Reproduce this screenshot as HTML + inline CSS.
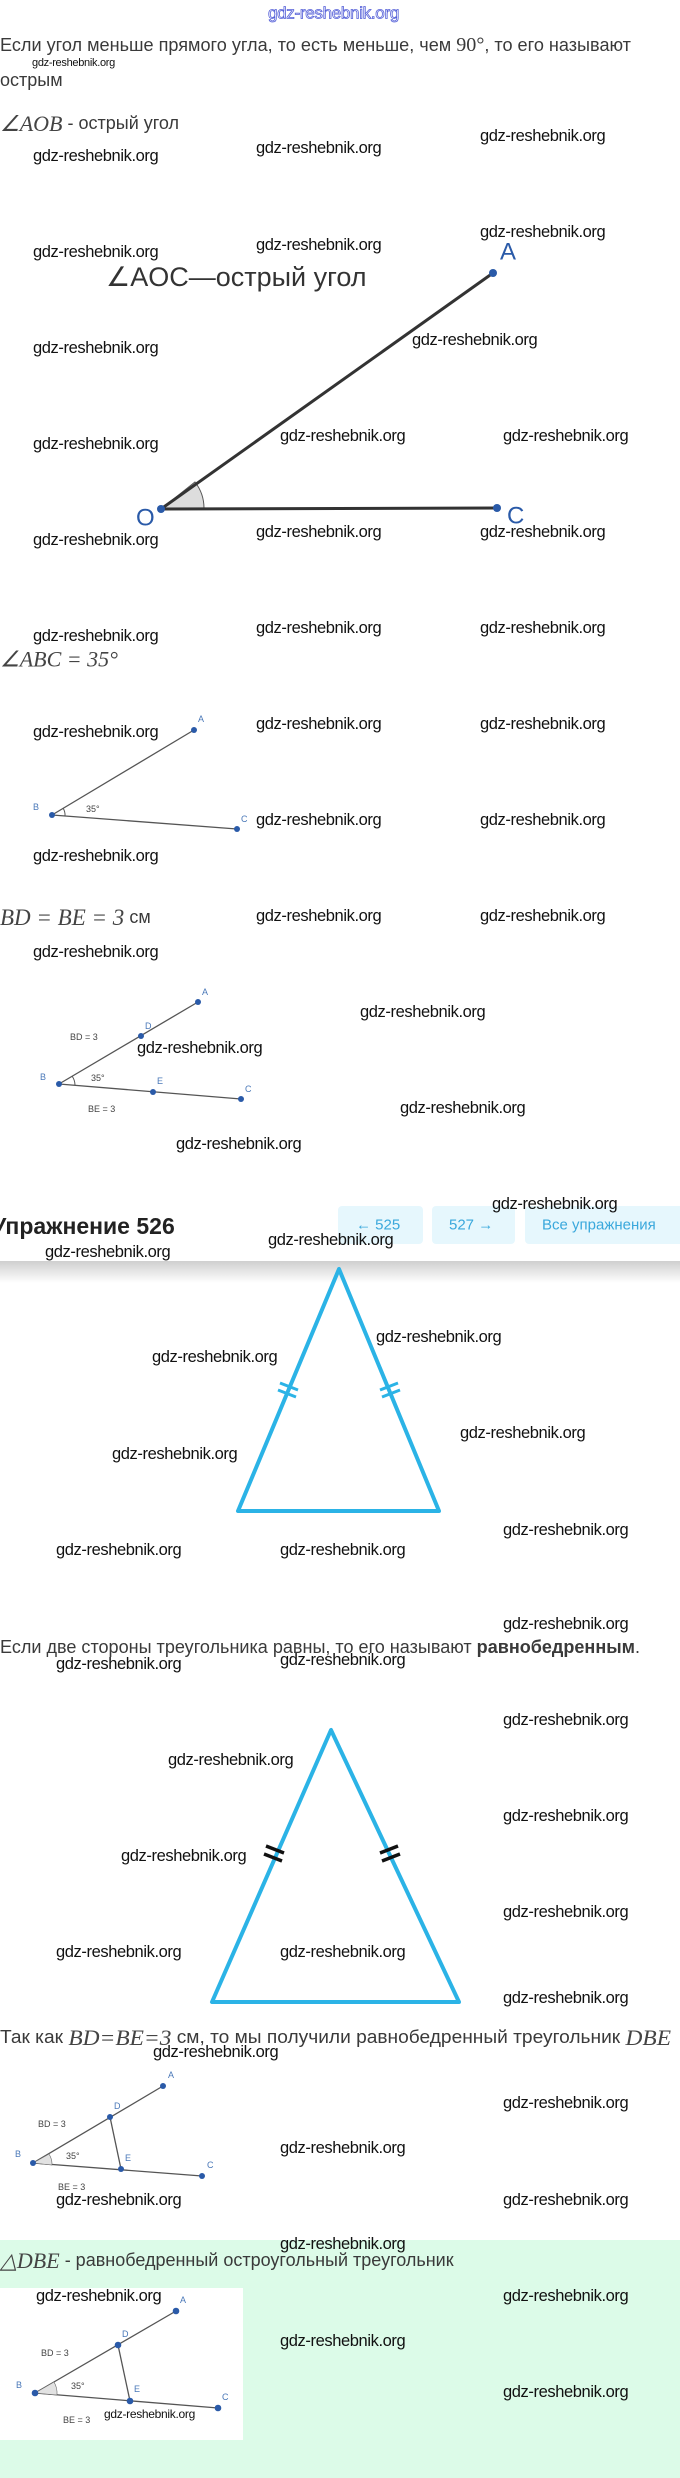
<!DOCTYPE html>
<html><head><meta charset="utf-8"><style>
html,body{margin:0;padding:0;background:#fff;}
svg{display:block;}
.t{font-family:"Liberation Sans",sans-serif;fill:#3a3a3a;}
.w{font-family:"Liberation Sans",sans-serif;font-size:16.5px;fill:#111;letter-spacing:-0.4px;}
.m{font-family:"Liberation Serif",serif;font-style:italic;fill:#444;}
.l{font-family:"Liberation Sans",sans-serif;font-size:9px;fill:#4a78b8;}
.g{font-family:"Liberation Sans",sans-serif;font-size:9px;fill:#444;}
</style></head><body>
<svg width="680" height="2478" viewBox="0 0 680 2478" xmlns="http://www.w3.org/2000/svg">
<defs>
<linearGradient id="sh" x1="0" y1="0" x2="0" y2="1"><stop offset="0" stop-color="#cfcfcf"/><stop offset="1" stop-color="#ffffff"/></linearGradient>
</defs>
<rect x="0" y="2240" width="680" height="238" fill="#dcfbe8"/>
<rect x="0" y="2288" width="243" height="152" fill="#fff"/>

<g dominant-baseline="central">
<text x="268" y="13" font-family="Liberation Sans,sans-serif" font-size="17" fill="none" stroke="#5560d8" stroke-width="0.8" letter-spacing="-0.3">gdz-reshebnik.org</text>

<text class="t" x="0" y="45" font-size="18" textLength="631" lengthAdjust="spacingAndGlyphs">Если угол меньше прямого угла, то есть меньше, чем <tspan font-family="Liberation Serif,serif" font-size="20">90°</tspan>, то его называют</text>
<text x="32" y="63" font-family="Liberation Sans,sans-serif" font-size="11" fill="#111" letter-spacing="-0.3">gdz-reshebnik.org</text>
<text class="t" x="0" y="80" font-size="18">острым</text>
<text x="0" y="123"><tspan class="m" font-size="22">∠AOB</tspan><tspan class="t" font-size="18"> - острый угол</tspan></text>

<path d="M161 509 L204 509 A43 43 0 0 0 195 482 Z" fill="#ddd" stroke="#555" stroke-width="1"/>
<line x1="161" y1="509" x2="493" y2="273" stroke="#333" stroke-width="3"/>
<line x1="161" y1="509" x2="497" y2="508" stroke="#333" stroke-width="3"/>
<circle cx="493" cy="273" r="4" fill="#2a5aa8"/><circle cx="161" cy="509" r="4" fill="#2a5aa8"/><circle cx="497" cy="508" r="4" fill="#2a5aa8"/>
<text x="500" y="252" font-family="Liberation Sans,sans-serif" font-size="24" fill="#2a5aa8">A</text>
<text x="136" y="518" font-family="Liberation Sans,sans-serif" font-size="24" fill="#2a5aa8">O</text>
<text x="507" y="516" font-family="Liberation Sans,sans-serif" font-size="24" fill="#2a5aa8">C</text>
<text x="106" y="277" font-family="Liberation Sans,sans-serif" font-size="27" fill="#333">∠AOC—острый  угол</text>

<text class="m" x="0" y="659" font-size="22">∠ABC = 35°</text>
<line x1="52" y1="815" x2="194" y2="730" stroke="#555" stroke-width="1.3"/>
<line x1="52" y1="815" x2="237" y2="829" stroke="#555" stroke-width="1.3"/>
<path d="M65 816 A13 13 0 0 0 63 808" fill="none" stroke="#555"/>
<circle cx="194" cy="730" r="3" fill="#2a5aa8"/><circle cx="52" cy="815" r="3" fill="#2a5aa8"/><circle cx="237" cy="829" r="3" fill="#2a5aa8"/>
<text class="l" x="198" y="719">A</text><text class="l" x="33" y="807">B</text><text class="l" x="241" y="819">C</text><text class="g" x="86" y="809">35°</text>

<text x="0" y="917"><tspan class="m" font-size="23">BD = BE = 3</tspan><tspan class="t" font-size="18"> см</tspan></text>
<line x1="59" y1="1084" x2="198" y2="1002" stroke="#555" stroke-width="1.3"/>
<line x1="59" y1="1084" x2="241" y2="1099" stroke="#555" stroke-width="1.3"/>
<path d="M75 1085 A16 16 0 0 0 72 1076" fill="none" stroke="#555"/>
<circle cx="198" cy="1002" r="3" fill="#2a5aa8"/><circle cx="141" cy="1036" r="3" fill="#2a5aa8"/><circle cx="59" cy="1084" r="3" fill="#2a5aa8"/><circle cx="153" cy="1092" r="3" fill="#2a5aa8"/><circle cx="241" cy="1099" r="3" fill="#2a5aa8"/>
<text class="l" x="202" y="992">A</text><text class="l" x="145" y="1026">D</text><text class="g" x="70" y="1037">BD = 3</text><text class="l" x="40" y="1077">B</text><text class="g" x="91" y="1078">35°</text><text class="l" x="157" y="1081">E</text><text class="l" x="245" y="1089">C</text><text class="g" x="88" y="1109">BE = 3</text>

<text x="-8" y="1226" font-family="Liberation Sans,sans-serif" font-size="23" font-weight="bold" fill="#222">Упражнение 526</text>
<rect x="338" y="1206" width="85" height="38" rx="4" fill="#e6f7fd"/>
<rect x="432" y="1206" width="83" height="38" rx="4" fill="#e6f7fd"/>
<rect x="525" y="1206" width="160" height="38" rx="4" fill="#e6f7fd"/>
<text x="356" y="1225" font-family="Liberation Sans,sans-serif" font-size="15" fill="#3aa8dc">←  525</text>
<text x="449" y="1225" font-family="Liberation Sans,sans-serif" font-size="15" fill="#3aa8dc">527  →</text>
<text x="542" y="1225" font-family="Liberation Sans,sans-serif" font-size="15" fill="#3aa8dc">Все упражнения</text>
<rect x="0" y="1261" width="680" height="22" fill="url(#sh)"/>

<polygon points="339,1269 238,1511 439,1511" fill="none" stroke="#2bb3e6" stroke-width="4" stroke-linejoin="round"/>
<g stroke="#2bb3e6" stroke-width="3"><line x1="280" y1="1383" x2="298" y2="1390"/><line x1="278" y1="1390" x2="296" y2="1397"/><line x1="380" y1="1390" x2="398" y2="1383"/><line x1="382" y1="1397" x2="400" y2="1390"/></g>

<text class="t" x="0" y="1647" font-size="18" textLength="640" lengthAdjust="spacingAndGlyphs">Если две стороны треугольника равны, то его называют <tspan font-weight="bold">равнобедренным</tspan>.</text>

<polygon points="331,1730 212,2002 459,2002" fill="none" stroke="#2bb3e6" stroke-width="4" stroke-linejoin="round"/>
<g stroke="#111" stroke-width="3.5"><line x1="266" y1="1846" x2="284" y2="1853"/><line x1="264" y1="1854" x2="282" y2="1861"/><line x1="380" y1="1853" x2="398" y2="1846"/><line x1="382" y1="1861" x2="400" y2="1854"/></g>

<text x="0" y="2037" textLength="671" lengthAdjust="spacingAndGlyphs"><tspan class="t" font-size="18">Так как </tspan><tspan class="m" font-size="22">BD=BE=3</tspan><tspan class="t" font-size="18"> см, то мы получили равнобедренный треугольник </tspan><tspan class="m" font-size="22">DBE</tspan></text>

<line x1="33" y1="2163" x2="163" y2="2086" stroke="#555" stroke-width="1.3"/>
<line x1="33" y1="2163" x2="202" y2="2176" stroke="#555" stroke-width="1.3"/>
<line x1="110" y1="2117" x2="121" y2="2169" stroke="#555" stroke-width="1.3"/>
<path d="M52 2165 A19 19 0 0 0 49 2154 L33 2163 Z" fill="#e2e2e2" stroke="#666" stroke-width="0.6"/>
<circle cx="163" cy="2086" r="3" fill="#2a5aa8"/><circle cx="110" cy="2117" r="3" fill="#2a5aa8"/><circle cx="33" cy="2163" r="3" fill="#2a5aa8"/><circle cx="121" cy="2169" r="3" fill="#2a5aa8"/><circle cx="202" cy="2176" r="3" fill="#2a5aa8"/>
<text class="l" x="168" y="2075">A</text><text class="l" x="114" y="2106">D</text><text class="g" x="38" y="2124">BD = 3</text><text class="l" x="15" y="2154">B</text><text class="g" x="66" y="2156">35°</text><text class="l" x="125" y="2158">E</text><text class="l" x="207" y="2165">C</text><text class="g" x="58" y="2187">BE = 3</text>

<text x="0" y="2260"><tspan class="m" font-size="22">△DBE</tspan><tspan class="t" font-size="18"> - равнобедренный остроугольный треугольник</tspan></text>
<line x1="35" y1="2393" x2="176" y2="2311" stroke="#555" stroke-width="1.3"/>
<line x1="35" y1="2393" x2="218" y2="2408" stroke="#555" stroke-width="1.3"/>
<line x1="118" y1="2345" x2="130" y2="2401" stroke="#555" stroke-width="1.3"/>
<path d="M57 2395 A22 22 0 0 0 54 2382 L35 2393 Z" fill="#e2e2e2" stroke="#666" stroke-width="0.6"/>
<circle cx="176" cy="2311" r="3.3" fill="#2a5aa8"/><circle cx="118" cy="2345" r="3.3" fill="#2a5aa8"/><circle cx="35" cy="2393" r="3.3" fill="#2a5aa8"/><circle cx="130" cy="2401" r="3.3" fill="#2a5aa8"/><circle cx="218" cy="2408" r="3.3" fill="#2a5aa8"/>
<text class="l" x="180" y="2300" font-size="10">A</text><text class="l" x="122" y="2334" font-size="10">D</text><text class="g" x="41" y="2353" font-size="10">BD = 3</text><text class="l" x="16" y="2385" font-size="10">B</text><text class="g" x="71" y="2386" font-size="10">35°</text><text class="l" x="134" y="2389" font-size="10">E</text><text class="l" x="222" y="2397" font-size="10">C</text><text class="g" x="63" y="2420" font-size="10">BE = 3</text>
<text x="104" y="2414" font-family="Liberation Sans,sans-serif" font-size="12" fill="#111" letter-spacing="-0.3">gdz-reshebnik.org</text>

<g class="w">
<text x="33" y="156">gdz-reshebnik.org</text><text x="256" y="148">gdz-reshebnik.org</text><text x="480" y="136">gdz-reshebnik.org</text>
<text x="480" y="232">gdz-reshebnik.org</text><text x="256" y="245">gdz-reshebnik.org</text><text x="33" y="252">gdz-reshebnik.org</text>
<text x="412" y="340">gdz-reshebnik.org</text><text x="33" y="348">gdz-reshebnik.org</text>
<text x="280" y="436">gdz-reshebnik.org</text><text x="503" y="436">gdz-reshebnik.org</text><text x="33" y="444">gdz-reshebnik.org</text>
<text x="256" y="532">gdz-reshebnik.org</text><text x="480" y="532">gdz-reshebnik.org</text><text x="33" y="540">gdz-reshebnik.org</text>
<text x="33" y="636">gdz-reshebnik.org</text><text x="256" y="628">gdz-reshebnik.org</text><text x="480" y="628">gdz-reshebnik.org</text>
<text x="33" y="732">gdz-reshebnik.org</text><text x="256" y="724">gdz-reshebnik.org</text><text x="480" y="724">gdz-reshebnik.org</text>
<text x="256" y="820">gdz-reshebnik.org</text><text x="480" y="820">gdz-reshebnik.org</text><text x="33" y="856">gdz-reshebnik.org</text>
<text x="256" y="916">gdz-reshebnik.org</text><text x="480" y="916">gdz-reshebnik.org</text><text x="33" y="952">gdz-reshebnik.org</text>
<text x="360" y="1012">gdz-reshebnik.org</text><text x="137" y="1048">gdz-reshebnik.org</text><text x="400" y="1108">gdz-reshebnik.org</text><text x="176" y="1144">gdz-reshebnik.org</text>
<text x="492" y="1204">gdz-reshebnik.org</text><text x="268" y="1240">gdz-reshebnik.org</text><text x="45" y="1252">gdz-reshebnik.org</text>
<text x="376" y="1337">gdz-reshebnik.org</text><text x="152" y="1357">gdz-reshebnik.org</text><text x="460" y="1433">gdz-reshebnik.org</text><text x="112" y="1454">gdz-reshebnik.org</text>
<text x="503" y="1530">gdz-reshebnik.org</text><text x="56" y="1550">gdz-reshebnik.org</text><text x="280" y="1550">gdz-reshebnik.org</text>
<text x="503" y="1624">gdz-reshebnik.org</text><text x="56" y="1664">gdz-reshebnik.org</text><text x="280" y="1660">gdz-reshebnik.org</text>
<text x="503" y="1720">gdz-reshebnik.org</text><text x="168" y="1760">gdz-reshebnik.org</text><text x="503" y="1816">gdz-reshebnik.org</text><text x="121" y="1856">gdz-reshebnik.org</text>
<text x="503" y="1912">gdz-reshebnik.org</text><text x="56" y="1952">gdz-reshebnik.org</text><text x="280" y="1952">gdz-reshebnik.org</text><text x="503" y="1998">gdz-reshebnik.org</text>
<text x="153" y="2052">gdz-reshebnik.org</text><text x="503" y="2103">gdz-reshebnik.org</text><text x="280" y="2148">gdz-reshebnik.org</text>
<text x="503" y="2200">gdz-reshebnik.org</text><text x="56" y="2200">gdz-reshebnik.org</text>
<text x="280" y="2244">gdz-reshebnik.org</text><text x="36" y="2296">gdz-reshebnik.org</text><text x="503" y="2296">gdz-reshebnik.org</text>
<text x="280" y="2341">gdz-reshebnik.org</text><text x="503" y="2392">gdz-reshebnik.org</text>
</g>
</g>
</svg>
</body></html>
